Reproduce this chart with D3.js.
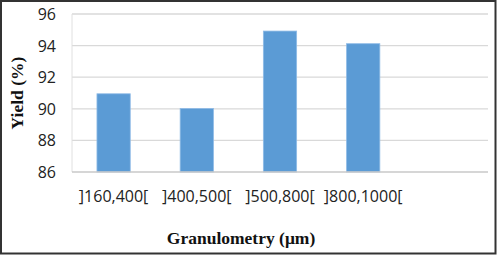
<!DOCTYPE html>
<html>
<head>
<meta charset="utf-8">
<script src="https://cdn.jsdelivr.net/npm/d3@7"></script>
<style>
  body { margin: 0; background: #fff; }
  svg { display: block; }
  .tick text { font-family: "Open Sans", "Noto Sans", sans-serif; font-size: 16px; fill: #222; }
  .title { font-family: "Liberation Serif", "DejaVu Serif", serif; font-weight: bold; font-size: 17.5px; fill: #111; }
</style>
</head>
<body>
<svg id="chart"></svg>
<script>
const categories = [']160,400[', ']400,500[', ']500,800[', ']800,1000[', ''];
const yields = [90.95, 90.02, 94.92, 94.12, null];
const yTicks = [86, 88, 90, 92, 94, 96];

const width = 497;
const height = 255;
const margin = { top: 14, right: 9, bottom: 83, left: 72 };

const svg = d3.select('#chart')
    .attr('width', width)
    .attr('height', height);

svg.append('rect')
    .attr('x', 1)
    .attr('y', 1)
    .attr('width', width - 2.5)
    .attr('height', height - 2.5)
    .attr('fill', '#fff')
    .attr('stroke', '#333')
    .attr('stroke-width', 2);

const x = d3.scaleBand()
    .domain(categories.map((d, i) => i))
    .range([margin.left, width - margin.right])
    .paddingInner(0.6)
    .paddingOuter(0.3);

const y = d3.scaleLinear()
    .domain([86, 96])
    .range([height - margin.bottom, margin.top]);

// gridlines
svg.append('g')
    .selectAll('line')
    .data(yTicks.slice(1))
    .enter().append('line')
    .attr('x1', margin.left)
    .attr('x2', width - margin.right)
    .attr('y1', d => y(d))
    .attr('y2', d => y(d))
    .attr('stroke', '#d9d9d9')
    .attr('stroke-width', 1.3);

svg.append('line')
    .attr('x1', margin.left)
    .attr('x2', margin.left)
    .attr('y1', y(96))
    .attr('y2', y(86))
    .attr('stroke', '#e0e0e0');

// bars
svg.append('g')
    .selectAll('rect')
    .data(yields.map((v, i) => ({ i, v })).filter(d => d.v !== null))
    .enter().append('rect')
    .attr('x', d => x(d.i))
    .attr('y', d => y(d.v))
    .attr('width', x.bandwidth())
    .attr('height', d => y(86) - y(d.v))
    .attr('fill', '#5b9bd5')
    .attr('stroke', '#8fbbe6')
    .attr('stroke-width', 0.8);

// baseline
svg.append('line')
    .attr('x1', margin.left)
    .attr('x2', width - margin.right)
    .attr('y1', y(86))
    .attr('y2', y(86))
    .attr('stroke', '#c8c8c8')
    .attr('stroke-width', 1.3);

// y axis
const yAxis = svg.append('g')
    .attr('transform', `translate(${margin.left - 16},0)`)
    .call(d3.axisLeft(y).tickValues(yTicks).tickSize(0).tickPadding(0));
yAxis.select('.domain').remove();
yAxis.selectAll('text').attr('dy', '0.34em');

// x axis
const xAxis = svg.append('g')
    .attr('transform', `translate(0,${y(86) + 19})`)
    .call(d3.axisBottom(x).tickFormat(i => categories[i]).tickSize(0).tickPadding(0));
xAxis.select('.domain').remove();
xAxis.selectAll('text').attr('dy', '0.71em');

svg.append('text')
    .attr('class', 'title')
    .attr('x', 241)
    .attr('y', 244)
    .attr('text-anchor', 'middle')
    .text('Granulometry (μm)');

svg.append('text')
    .attr('class', 'title')
    .attr('transform', `translate(23,${(y(86) + y(96)) / 2}) rotate(-90)`)
    .attr('text-anchor', 'middle')
    .text('Yield (%)');
</script>
</body>
</html>
